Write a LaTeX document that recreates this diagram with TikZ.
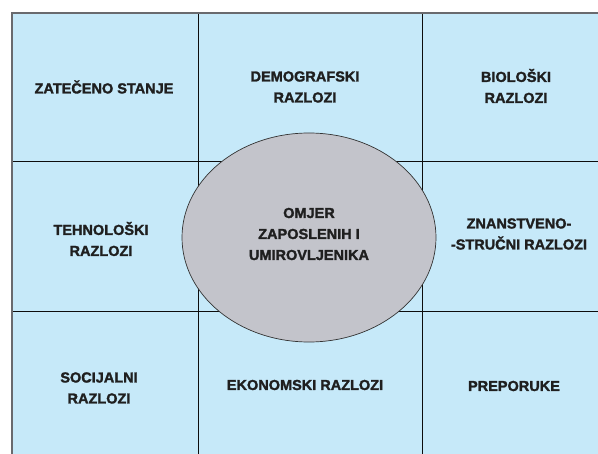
\documentclass[tikz,border=0pt]{standalone}
\usepackage{fontspec}
\setmainfont{Liberation Sans}[BoldFeatures={FakeBold=1.8}]
\usetikzlibrary{shapes.geometric}
\definecolor{cellblue}{RGB}{198,233,249}
\definecolor{ovalgray}{RGB}{195,196,203}
\definecolor{edgegray}{RGB}{105,106,110}
\tikzset{celltext/.style={font=\bfseries\fontsize{14.5}{21}\selectfont, align=center, text=black!88}}

\begin{document}
\begin{tikzpicture}[x=1pt,y=-1pt]
		%%%%% START %%%%%
		\useasboundingbox (0,0) rectangle (598,454);
		
		\fill[cellblue] (12,13) rectangle (598,454);
		
		\draw[line width=0.9pt, color=black!95] (198,13) -- (198,454);
		\draw[line width=0.9pt, color=black!95] (422,13) -- (422,454);
		\draw[line width=0.9pt, color=black!95] (12,161) -- (598,161);
		\draw[line width=0.9pt, color=black!95] (12,311) -- (598,311);
		
		\draw[line width=1.6pt, color=edgegray] (12,454) -- (12,13) -- (598,13);
		
		\node[ellipse, draw=black!80, line width=0.7pt, fill=ovalgray, inner sep=0pt, minimum width=254pt, minimum height=209pt] (oval) at (309,237.5) {};
		
		\node[celltext] (zateceno) at (104,87) {ZATEČENO STANJE};
		\node[celltext] (demografski) at (305,87) {DEMOGRAFSKI\\RAZLOZI};
		\node[celltext] (bioloski) at (516,86) {BIOLOŠKI\\RAZLOZI};
		
		\node[celltext] (tehnoloski) at (101,239) {TEHNOLOŠKI\\RAZLOZI};
		\node[celltext] (omjer) at (309,234) {OMJER\\ZAPOSLENIH I\\UMIROVLJENIKA};
		\node[celltext] (znanstveno) at (519,234) {ZNANSTVENO-\\-STRUČNI RAZLOZI};
		
		\node[celltext] (socijalni) at (99,388) {SOCIJALNI\\RAZLOZI};
		\node[celltext] (ekonomski) at (305,385) {EKONOMSKI RAZLOZI};
		\node[celltext] (preporuke) at (514,386) {PREPORUKE};
		%%%%% END %%%%%
\end{tikzpicture}
\end{document}
